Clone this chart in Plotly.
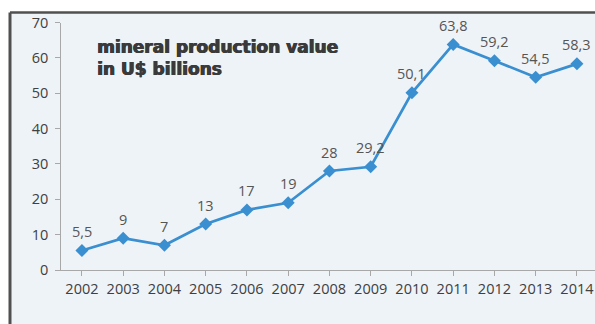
import plotly.graph_objects as go

years = ["2002", "2003", "2004", "2005", "2006", "2007", "2008",
         "2009", "2010", "2011", "2012", "2013", "2014"]
values = [5.5, 9, 7, 13, 17, 19, 28, 29.2, 50.1, 63.8, 59.2, 54.5, 58.3]
value_labels = ["5,5", "9", "7", "13", "17", "19", "28", "29,2",
                "50,1", "63,8", "59,2", "54,5", "58,3"]
y_ticks = [0, 10, 20, 30, 40, 50, 60, 70]
title_lines = ["mineral production value", "in U$ billions"]

W, H = 595, 324
line_color = "#3a8fd0"
bg = "#eef3f8"
title_color = "#3a3a3a"

fig = go.Figure()
fig.add_trace(go.Scatter(
    x=list(range(len(years))), y=values, mode="lines+markers",
    line=dict(color=line_color, width=2.7),
    marker=dict(symbol="diamond", size=10, color=line_color),
    hoverinfo="skip", showlegend=False,
))

for i, (v, lab) in enumerate(zip(values, value_labels)):
    fig.add_annotation(x=i, y=v, text=lab, showarrow=False, yshift=19,
                       font=dict(family="Open Sans", size=14.5, color="#555555"))

fig.add_annotation(
    xref="paper", yref="paper", x=95 / W, y=1 - 35 / H,
    xanchor="left", yanchor="top", align="left", showarrow=False,
    text="<br>".join(title_lines),
    font=dict(family="DejaVu Sans", size=17, color=title_color, weight="bold",
              shadow=f"0.7px 0 0 {title_color}, -0.3px 0 0 {title_color}"),
)

# chart frame (scanned border)
fig.add_shape(type="rect", xref="paper", yref="paper",
              x0=10 / W, x1=1.02, y0=-0.02, y1=1 - 12.5 / H,
              fillcolor=bg, line=dict(width=0), layer="below")
fig.add_shape(type="line", xref="paper", yref="paper",
              x0=10 / W, x1=1.0, y0=1 - 12.5 / H, y1=1 - 12.5 / H,
              line=dict(color="#505050", width=2.5), layer="below")
fig.add_shape(type="line", xref="paper", yref="paper",
              x0=10 / W, x1=10 / W, y0=0, y1=1 - 12.5 / H,
              line=dict(color="#505050", width=3), layer="below")

x_left, px_per_cat = 61.3, 41.25
y0_px, y70_px = 270.0, 22.5

fig.update_layout(
    width=W, height=H, template="none",
    margin=dict(l=0, r=0, t=0, b=0),
    paper_bgcolor="white", plot_bgcolor="rgba(0,0,0,0)",
    xaxis=dict(
        domain=[x_left / W, 1],
        range=[-0.5, -0.5 + (W - x_left) / px_per_cat],
        tickmode="array", tickvals=list(range(len(years))), ticktext=years,
        tickson="boundaries", ticks="outside", ticklen=5, tickcolor="#a8a8a8",
        showline=True, linecolor="#a8a8a8", linewidth=1.2,
        showgrid=False, zeroline=False, automargin=False,
        tickfont=dict(family="Open Sans", size=14.5, color="#404040"),
    ),
    yaxis=dict(
        domain=[1 - y0_px / H, 1 - y70_px / H],
        range=[0, 70], tickvals=y_ticks,
        ticks="outside", ticklen=5, tickcolor="#a8a8a8",
        showline=True, linecolor="#a8a8a8", linewidth=1.2,
        showgrid=False, zeroline=False, automargin=False,
        ticklabelstandoff=4,
        tickfont=dict(family="Open Sans", size=14.5, color="#404040"),
    ),
)

fig.write_html("out.html", config={"displayModeBar": False},
               post_script="document.body.style.margin='0';document.body.style.overflow='hidden';")
